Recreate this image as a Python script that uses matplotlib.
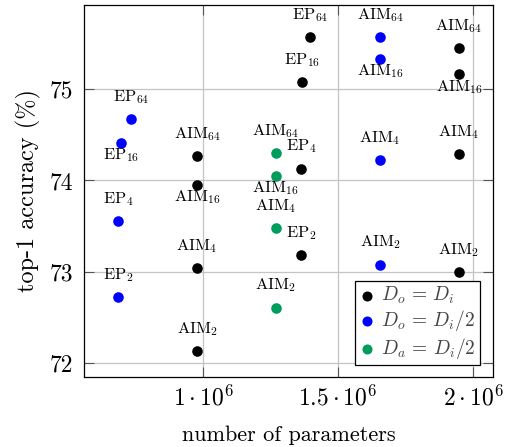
import matplotlib
matplotlib.use("Agg")
import matplotlib.pyplot as plt

# D_o = D_i (black)
black_labels = ["AIM64", "AIM16", "AIM4", "AIM2", "EP64", "EP16", "EP4", "EP2",
                "AIM64", "AIM16", "AIM4", "AIM2"]
black_params = [0.978e6, 0.978e6, 0.978e6, 0.978e6, 1.396e6, 1.367e6, 1.363e6, 1.363e6,
                1.948e6, 1.948e6, 1.948e6, 1.948e6]
black_acc = [74.27, 73.95, 73.04, 72.13, 75.57, 75.08, 74.13, 73.18,
             75.45, 75.16, 74.29, 73.00]
black_pos = ["above", "below", "above", "above", "above", "above", "above", "above",
             "above", "below", "above", "above"]

# D_o = D_i/2 (blue)
blue_labels = ["EP64", "EP16", "EP4", "EP2", "AIM64", "AIM16", "AIM4", "AIM2"]
blue_params = [0.733e6, 0.696e6, 0.685e6, 0.685e6, 1.656e6, 1.656e6, 1.656e6, 1.656e6]
blue_acc = [74.67, 74.41, 73.56, 72.72, 75.57, 75.33, 74.22, 73.08]
blue_pos = ["above", "below", "above", "above", "above", "below", "above", "above"]

# D_a = D_i/2 (green)
green_labels = ["AIM64", "AIM16", "AIM4", "AIM2"]
green_params = [1.270e6, 1.270e6, 1.270e6, 1.270e6]
green_acc = [74.30, 74.05, 73.48, 72.61]
green_pos = ["above", "below", "above", "above"]

x_ticks = [1e6, 1.5e6, 2e6]
x_tick_labels = [r"$1\cdot10^{6}$", r"$1.5\cdot10^{6}$", r"$2\cdot10^{6}$"]
y_ticks = [72, 73, 74, 75]

plt.rcParams["font.family"] = "serif"
plt.rcParams["font.serif"] = ["cmr10"]
plt.rcParams["mathtext.fontset"] = "cm"
plt.rcParams["axes.unicode_minus"] = False


def fmt(name):
    """ Split 'AIM64' into AIM with a subscript 64. """
    base = name.rstrip("0123456789")
    sub = name[len(base):]
    return r"$\mathrm{%s}_{%s}$" % (base, sub)


def draw_series(ax, xs, ys, names, pos, color, label):
    ax.scatter(xs, ys, s=58, color=color, zorder=3, label=label, linewidths=0)
    for x, y, n, p in zip(xs, ys, names, pos):
        dy = 9.5 if p == "above" else -2.5
        va = "bottom" if p == "above" else "top"
        ax.annotate(fmt(n), (x, y), xytext=(0, dy), textcoords="offset points",
                    ha="center", va=va, fontsize=11.8, zorder=4)


fig = plt.figure(figsize=(5.07, 4.47), dpi=100)
ax = fig.add_axes([84 / 507, 1 - 377 / 447, 409 / 507, 372 / 447])

draw_series(ax, black_params, black_acc, black_labels, black_pos, "black", r"$D_o\,=\,D_i$")
draw_series(ax, blue_params, blue_acc, blue_labels, blue_pos, "#0000ff", r"$D_o\,=\,D_i/2$")
draw_series(ax, green_params, green_acc, green_labels, green_pos, "#009c5b", r"$D_a\,=\,D_i/2$")

ax.set_xlim(0.559e6, 2.074e6)
ax.set_ylim(71.85, 75.92)
ax.set_xticks(x_ticks)
ax.set_xticklabels(x_tick_labels)
ax.set_yticks(y_ticks)
ax.set_yticklabels([str(t) for t in y_ticks])
ax.tick_params(direction="in", length=7, width=0.8, color="#555555",
               top=True, right=True, labelsize=17)
ax.tick_params(axis="x", pad=6)
ax.tick_params(axis="y", pad=8)
ax.grid(True, color="#c4c4c4", linewidth=0.9)
ax.set_axisbelow(True)
for s in ax.spines.values():
    s.set_linewidth(0.9)

ax.set_xlabel("number of parameters", fontsize=16, labelpad=11)
ax.set_ylabel("top-1 accuracy (%)", fontsize=17.5, labelpad=6)

leg = ax.legend(loc="lower right", bbox_to_anchor=(0.968, 0.032), fontsize=14,
                frameon=True, fancybox=False, edgecolor="black", framealpha=1,
                handletextpad=0.3, handlelength=0.8, borderpad=0.22,
                labelspacing=0.12, borderaxespad=0, markerscale=0.95)
leg.get_frame().set_linewidth(0.9)
for t in leg.get_texts():
    t.set_color("#444444")

plt.savefig("out.png", dpi=100)
